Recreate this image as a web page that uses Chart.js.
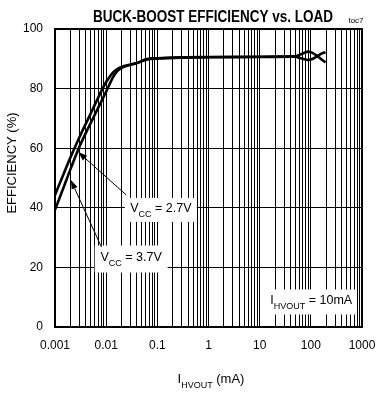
<!DOCTYPE html>
<html lang="en">
  <head>
    <meta charset="UTF-8" />
    <title>Buck-Boost Efficiency vs. Load</title>
    <script src="https://cdn.jsdelivr.net/npm/chart.js"></script>
    <style>
      html, body { margin: 0; padding: 0; background: #fff; }
      #wrap { width: 376px; height: 402px; }
    </style>
  </head>
  <body>
    <div id="wrap"><canvas id="effChart" width="376" height="402"></canvas></div>

    <script>
      // load current (mA)
      const loadMA = [0.001, 0.0015, 0.002, 0.003, 0.005, 0.007, 0.0085, 0.01, 0.0134, 0.016, 0.021, 0.03, 0.038, 0.063, 0.1, 0.3, 1, 10, 47, 70, 88, 110, 134, 165, 194];
      // efficiency (%)
      const effVcc37 = [44.3, 51.7, 56.9, 63.7, 71.7, 77, 80, 82.2, 85.3, 86.4, 87.4, 88.1, 88.5, 89.9, 90.2, 90.5, 90.6, 90.7, 90.8, 91.8, 92.4, 91.9, 90.9, 89.7, 88.8];
      const effVcc27 = [39.3, 47.2, 52.9, 60.5, 68.5, 73.6, 76.5, 79, 83.6, 85.6, 87.1, 88, 88.4, 89.8, 90.1, 90.4, 90.5, 90.6, 90.7, 90.0, 89.6, 90.0, 90.9, 91.8, 92.2];

      // axis ticks
      const xDecades = [0.001, 0.01, 0.1, 1, 10, 100, 1000];
      const xDecadeLabels = ["0.001", "0.01", "0.1", "1", "10", "100", "1000"];
      const yTicks = [0, 20, 40, 60, 80, 100];

      // minor grid: 1..9 inside each decade
      const xGridValues = [];
      for (let i = 0; i < xDecades.length - 1; i++) {
        for (let k = 1; k <= 9; k++) xGridValues.push(k === 1 ? xDecades[i] : xDecades[i] * k);
      }
      xGridValues.push(xDecades[xDecades.length - 1]);

      const FONT = "'Liberation Sans', Arial, sans-serif";

      // text with a subscript, e.g. V_CC = 2.7V ; x is the center
      function subText(ctx, x, y, main, sub, rest, size) {
        const subSize = Math.round(size * 0.72);
        ctx.font = size + "px " + FONT;
        const w1 = ctx.measureText(main).width;
        const w3 = ctx.measureText(rest).width;
        ctx.font = subSize + "px " + FONT;
        const w2 = ctx.measureText(sub).width;
        let cx = x - (w1 + w2 + w3) / 2;
        ctx.textAlign = "left";
        ctx.textBaseline = "alphabetic";
        ctx.fillStyle = "#000";
        ctx.font = size + "px " + FONT;
        ctx.fillText(main, cx, y);
        cx += w1;
        ctx.font = subSize + "px " + FONT;
        ctx.fillText(sub, cx, y + size * 0.4);
        cx += w2;
        ctx.font = size + "px " + FONT;
        ctx.fillText(rest, cx, y);
      }

      function arrow(ctx, x0, y0, x1, y1) {
        const a = Math.atan2(y1 - y0, x1 - x0);
        const len = 9, half = 3.2;
        ctx.strokeStyle = "#000";
        ctx.lineWidth = 1;
        ctx.beginPath();
        ctx.moveTo(x0, y0);
        ctx.lineTo(x1 - Math.cos(a) * len, y1 - Math.sin(a) * len);
        ctx.stroke();
        ctx.beginPath();
        ctx.moveTo(x1, y1);
        ctx.lineTo(x1 - Math.cos(a) * len - Math.sin(a) * half, y1 - Math.sin(a) * len + Math.cos(a) * half);
        ctx.lineTo(x1 - Math.cos(a) * len + Math.sin(a) * half, y1 - Math.sin(a) * len - Math.cos(a) * half);
        ctx.closePath();
        ctx.fillStyle = "#000";
        ctx.fill();
      }

      // labels: data position of the box center, box size in px
      const notes = [
        { x: 0.117, y: 39.3, w: 72, h: 24, main: "V", sub: "CC", rest: " = 2.7V", tip: [0.00285, 58.7], tail: [0.0247, 44.3] },
        { x: 0.0308, y: 22.8, w: 73, h: 27, main: "V", sub: "CC", rest: " = 3.7V", tip: [0.00204, 49.3], tail: [0.0081, 26.8] },
        { x: 102, y: 8.4, w: 88, h: 25, main: "I", sub: "HVOUT", rest: " = 10mA" }
      ];

      const decorations = {
        id: "decorations",
        afterDatasetsDraw(chart) {
          const ctx = chart.ctx;
          const xs = chart.scales.x, ys = chart.scales.y;
          const area = chart.chartArea;
          ctx.save();

          notes.forEach((n) => {
            const cx = xs.getPixelForValue(n.x);
            const cy = ys.getPixelForValue(n.y);
            ctx.fillStyle = "#fff";
            ctx.fillRect(cx - n.w / 2, cy - n.h / 2, n.w, n.h);
            subText(ctx, cx, cy + 2, n.main, n.sub, n.rest, 12.5);
            if (n.tip) {
              arrow(ctx, xs.getPixelForValue(n.tail[0]), ys.getPixelForValue(n.tail[1]),
                xs.getPixelForValue(n.tip[0]), ys.getPixelForValue(n.tip[1]));
            }
          });

          // frame
          ctx.strokeStyle = "#000";
          ctx.lineWidth = 2;
          ctx.strokeRect(area.left, area.top, area.right - area.left, area.bottom - area.top);

          // title, condensed
          ctx.fillStyle = "#000";
          ctx.textAlign = "center";
          ctx.textBaseline = "alphabetic";
          ctx.font = "bold 16px " + FONT;
          const title = "BUCK-BOOST EFFICIENCY vs. LOAD";
          const tw = ctx.measureText(title).width;
          ctx.save();
          ctx.translate(213, 22);
          ctx.scale(240 / tw, 1);
          ctx.fillText(title, 0, 0);
          ctx.restore();

          ctx.font = "8px " + FONT;
          ctx.fillText("toc7", 356, 23);

          // y title
          ctx.save();
          ctx.translate(16, 163);
          ctx.rotate(-Math.PI / 2);
          ctx.font = "13px " + FONT;
          ctx.textAlign = "center";
          ctx.fillText("EFFICIENCY (%)", 0, 0);
          ctx.restore();

          // x title
          subText(ctx, 211, 383, "I", "HVOUT", " (mA)", 13);

          ctx.restore();
        }
      };

      const ctx = document.getElementById("effChart").getContext("2d");
      new Chart(ctx, {
        type: "line",
        data: {
          datasets: [
            {
              label: "VCC = 3.7V",
              data: loadMA.map((x, i) => ({ x: x, y: effVcc37[i] })),
              borderColor: "#000",
              borderWidth: 2.6,
              pointRadius: 0,
              cubicInterpolationMode: "monotone",
            },
            {
              label: "VCC = 2.7V",
              data: loadMA.map((x, i) => ({ x: x, y: effVcc27[i] })),
              borderColor: "#000",
              borderWidth: 2.6,
              pointRadius: 0,
              cubicInterpolationMode: "monotone",
            },
          ],
        },
        options: {
          responsive: false,
          animation: false,
          layout: { padding: { top: 29, right: 14, bottom: 0, left: 0 } },
          plugins: { legend: { display: false }, tooltip: { enabled: false } },
          scales: {
            x: {
              type: "logarithmic",
              min: 0.001,
              max: 1000,
              afterBuildTicks: (scale) => {
                scale.ticks = xGridValues.map((v) => ({ value: v }));
              },
              afterFit: (scale) => {
                scale.height = 75;
                scale.paddingLeft = 0;
                scale.paddingRight = 0;
              },
              grid: { color: "#000", lineWidth: 1, drawTicks: false },
              border: { display: false },
              ticks: {
                autoSkip: false,
                maxRotation: 0,
                padding: 11,
                color: "#000",
                font: { family: FONT, size: 12 },
                callback: (value) => {
                  const i = xDecades.indexOf(value);
                  return i >= 0 ? xDecadeLabels[i] : "";
                },
              },
            },
            y: {
              min: 0,
              max: 100,
              afterBuildTicks: (scale) => {
                scale.ticks = yTicks.map((v) => ({ value: v }));
              },
              afterFit: (scale) => {
                scale.width = 55;
                scale.paddingTop = 0;
                scale.paddingBottom = 0;
              },
              grid: { color: "#000", lineWidth: 1, drawTicks: false },
              border: { display: false },
              ticks: {
                padding: 12,
                color: "#000",
                font: { family: FONT, size: 12 },
              },
            },
          },
        },
        plugins: [decorations],
      });
    </script>
  </body>
</html>
